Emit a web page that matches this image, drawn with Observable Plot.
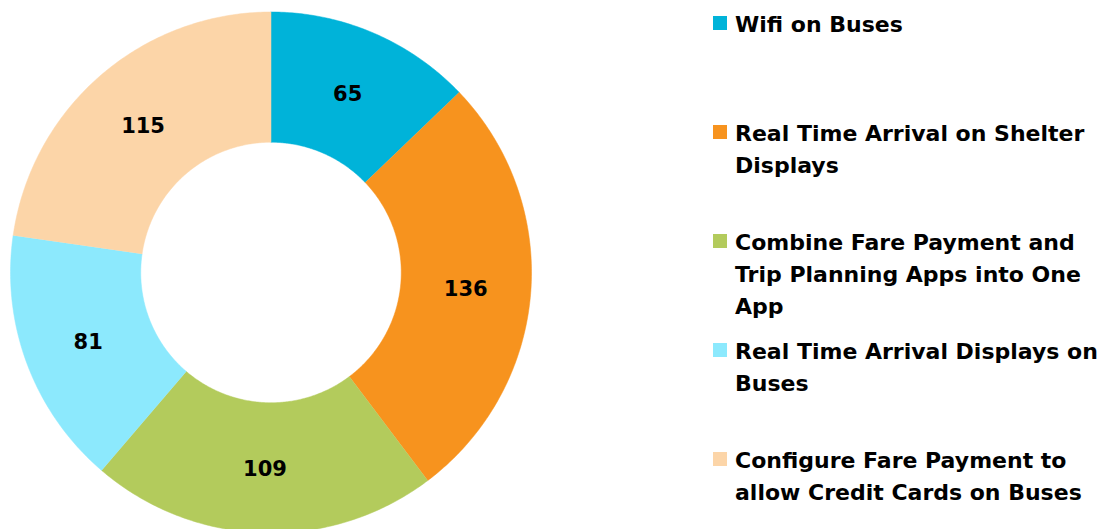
<!DOCTYPE html>
<html>
<head>
<meta charset="utf-8">
<script src="https://cdn.jsdelivr.net/npm/d3@7"></script>
<script src="https://cdn.jsdelivr.net/npm/@observablehq/plot@0.6"></script>
<style>
  html, body { margin: 0; padding: 0; background: #fff; }
  #wrap { position: relative; width: 1103px; height: 529px; overflow: hidden; }
  #chart { position: absolute; left: 0; top: 0; }
  #legend { position: absolute; left: 713px; top: 9px; font-family: "DejaVu Sans", sans-serif; font-weight: bold; font-size: 22px; line-height: 32px; color: #000; }
  .item { height: 109px; display: flex; align-items: flex-start; }
  .sw { width: 14px; height: 14px; margin-top: 7px; margin-right: 8px; flex: none; }
  .lbl { white-space: pre; }
</style>
</head>
<body>
<div id="wrap">
  <div id="chart"></div>
  <div id="legend"></div>
</div>
<script>
const categories = [
  "Wifi on Buses",
  "Real Time Arrival on Shelter Displays",
  "Combine Fare Payment and Trip Planning Apps into One App",
  "Real Time Arrival Displays on Buses",
  "Configure Fare Payment to allow Credit Cards on Buses"
];
const legendLabels = [
  "Wifi on Buses",
  "Real Time Arrival on Shelter\nDisplays",
  "Combine Fare Payment and\nTrip Planning Apps into One\nApp",
  "Real Time Arrival Displays on\nBuses",
  "Configure Fare Payment to\nallow Credit Cards on Buses"
];
const values = [65, 136, 109, 81, 115];
const colors = ["#00B3D9", "#F7931E", "#B3CB5C", "#8CE9FD", "#FCD5A8"];

const innerRatio = 0.5;
const pie = d3.pie().sort(null).value((d, i) => values[i])(categories);

// Build slice outlines in unit (data) space from the pie angles
const pts = [];
pie.forEach((p, i) => {
  const name = categories[i];
  const n = Math.max(8, Math.ceil((p.endAngle - p.startAngle) / 0.01));
  const ring = [];
  for (let k = 0; k <= n; k++) {
    const a = p.startAngle + (p.endAngle - p.startAngle) * k / n;
    ring.push({name, x: Math.sin(a), y: Math.cos(a)});
  }
  for (let k = n; k >= 0; k--) {
    const a = p.startAngle + (p.endAngle - p.startAngle) * k / n;
    ring.push({name, x: innerRatio * Math.sin(a), y: innerRatio * Math.cos(a)});
  }
  pts.push(...ring);
});
const labelR = (1 + innerRatio) / 2;
const labels = pie.map((p, i) => {
  const a = (p.startAngle + p.endAngle) / 2;
  return {name: categories[i], value: values[i], x: labelR * Math.sin(a), y: labelR * Math.cos(a)};
});

const chart = Plot.plot({
  width: 560,
  height: 529,
  margin: 0,
  x: {domain: [-1, 1], range: [10, 531], axis: null},
  y: {domain: [-1, 1], range: [532.5, 11.5], axis: null},
  color: {domain: categories, range: colors},
  style: {background: "transparent"},
  marks: [
    Plot.line(pts, {x: "x", y: "y", z: "name", fill: "name", stroke: "name", strokeWidth: 0.5, curve: "linear"}),
    Plot.text(labels, {x: "x", y: "y", text: d => String(d.value), fill: "#000", fontSize: 21, fontWeight: "bold", fontFamily: "DejaVu Sans", textAnchor: "middle", dy: 1})
  ]
});
document.getElementById("chart").appendChild(chart);

const legend = document.getElementById("legend");
categories.forEach((c, i) => {
  const item = document.createElement("div");
  item.className = "item";
  const sw = document.createElement("div");
  sw.className = "sw";
  sw.style.background = colors[i];
  const lbl = document.createElement("div");
  lbl.className = "lbl";
  lbl.textContent = legendLabels[i];
  item.appendChild(sw);
  item.appendChild(lbl);
  legend.appendChild(item);
});
</script>
</body>
</html>
